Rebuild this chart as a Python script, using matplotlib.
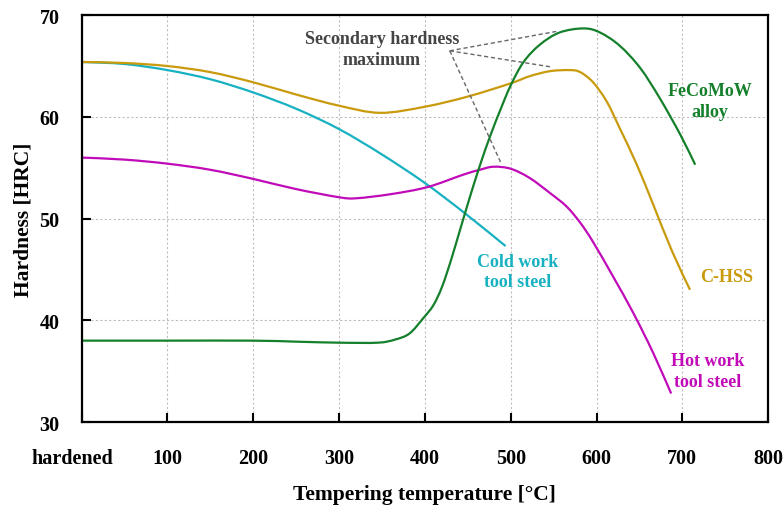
import matplotlib.pyplot as plt
import matplotlib.transforms as mtransforms
from matplotlib.path import Path
from matplotlib.patches import PathPatch

plt.rcParams['font.family'] = ['Liberation Serif', 'DejaVu Serif']
plt.rcParams['font.weight'] = 'bold'

# hardness after tempering, read as (temperature, HRC)
cold_x = [0, 50, 100, 150, 200, 250, 300, 350, 400, 447, 494]
cold_y = [65.4, 65.2, 64.6, 63.7, 62.4, 60.8, 58.8, 56.3, 53.5, 50.5, 47.3]

hss_x = [0, 50, 100, 150, 200, 250, 300, 348, 400, 450, 500, 522, 546, 569,
         581, 596, 612, 627, 647, 666, 688, 709]
hss_y = [65.4, 65.3, 65.0, 64.4, 63.4, 62.2, 61.1, 60.4, 61.0, 62.0, 63.3,
         64.0, 64.5, 64.6, 64.4, 63.4, 61.5, 58.9, 55.3, 51.4, 46.8, 43.0]

fecomow_x = [0, 100, 200, 250, 300, 345, 365, 382, 398, 410, 420, 430, 441,
             452, 464, 476, 488, 500, 515, 534, 557, 585, 604, 627, 651, 674,
             698, 715]
fecomow_y = [38.0, 38.0, 38.0, 37.9, 37.8, 37.8, 38.1, 38.7, 40.2, 41.5, 43.3,
             45.8, 48.9, 52.0, 55.2, 58.1, 60.7, 63.1, 65.4, 67.1, 68.3, 68.7,
             68.3, 67.0, 64.8, 61.8, 58.2, 55.3]

hot_x = [0, 50, 100, 150, 200, 250, 300, 320, 360, 403, 444, 464, 480, 500,
         522, 546, 565, 581, 596, 620, 643, 666, 687]
hot_y = [56.0, 55.8, 55.4, 54.8, 53.9, 52.9, 52.1, 52.0, 52.4, 53.1, 54.3,
         54.8, 55.1, 54.9, 54.0, 52.5, 51.2, 49.6, 47.7, 44.2, 40.7, 36.8, 32.8]

xticks = [0, 100, 200, 300, 400, 500, 600, 700, 800]
xlabels = ['hardened', '100', '200', '300', '400', '500', '600', '700', '800']
yticks = [30, 40, 50, 60, 70]

GREEN = '#15802b'
GOLD = '#c99a0c'
CYAN = '#17b1c1'
MAGENTA = '#c10bb8'


def smooth_curve(ax, xs, ys, color):
    # catmull-rom through the points, drawn as cubic bezier segments
    pts = list(zip(xs, ys))
    n = len(pts)
    verts = [pts[0]]
    codes = [Path.MOVETO]
    for i in range(n - 1):
        p0 = pts[max(i - 1, 0)]
        p1 = pts[i]
        p2 = pts[i + 1]
        p3 = pts[min(i + 2, n - 1)]
        c1 = (p1[0] + (p2[0] - p0[0]) / 6, p1[1] + (p2[1] - p0[1]) / 6)
        c2 = (p2[0] - (p3[0] - p1[0]) / 6, p2[1] - (p3[1] - p1[1]) / 6)
        verts += [c1, c2, p2]
        codes += [Path.CURVE4] * 3
    ax.add_patch(PathPatch(Path(verts, codes), fill=False, edgecolor=color, lw=1.6))


fig = plt.figure(figsize=(7.83, 5.06), dpi=100)
ax = fig.add_axes([0.1043, 0.164, 0.8767, 0.804])

smooth_curve(ax, cold_x, cold_y, CYAN)
smooth_curve(ax, hss_x, hss_y, GOLD)
smooth_curve(ax, hot_x, hot_y, MAGENTA)
smooth_curve(ax, fecomow_x, fecomow_y, GREEN)

ax.set_xlim(0, 800)
ax.set_ylim(30, 70)
ax.set_xticks(xticks)
ax.set_xticklabels(xlabels)
ax.set_yticks(yticks)
ax.tick_params(axis='x', direction='in', length=6.5, width=1.5, pad=19, labelsize=14.5)
ax.tick_params(axis='y', direction='in', length=6.5, width=1.5, pad=16, labelsize=14.5)
for s in ax.spines.values():
    s.set_linewidth(1.6)

# "hardened" sits a little left of the axis corner
shift = mtransforms.ScaledTranslation(-6.5 / 72, 0, fig.dpi_scale_trans)
lab0 = ax.get_xticklabels()[0]
lab0.set_transform(lab0.get_transform() + shift)

ax.grid(True, color='#c2bcbc', lw=0.8, ls=(0, (2, 2)))
ax.set_axisbelow(True)

ax.set_xlabel('Tempering temperature [°C]', fontsize=15.5, fontweight='bold', labelpad=11)
ax.set_ylabel('Hardness [HRC]', fontsize=15.5, fontweight='bold', labelpad=4)

# curve labels
ax.text(732, 61.6, 'FeCoMoW\nalloy', color=GREEN, fontsize=13, ha='center', va='center',
        linespacing=1.3)
ax.text(752, 44.3, 'C-HSS', color=GOLD, fontsize=13, ha='center', va='center')
ax.text(729, 35.0, 'Hot work\ntool steel', color=MAGENTA, fontsize=13, ha='center',
        va='center', linespacing=1.3)
ax.text(508, 44.8, 'Cold work\ntool steel', color=CYAN, fontsize=13, ha='center',
        va='center', linespacing=1.3)

# secondary hardness maximum callout
ax.text(350, 66.7, 'Secondary hardness\nmaximum', color='#444444', fontsize=13,
        ha='center', va='center', linespacing=1.3)
for tx, ty in [(553, 68.4), (548, 64.9), (489, 55.4)]:
    ax.plot([429, tx], [66.5, ty], color='#666666', lw=1, ls=(0, (3, 2)))

fig.savefig('out.png', dpi=100)
